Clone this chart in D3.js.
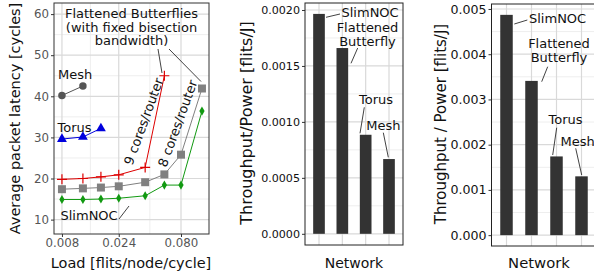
<!DOCTYPE html>
<html>
<head>
<meta charset="utf-8">
<script src="https://cdn.jsdelivr.net/npm/d3@7"></script>
<style>
  body { margin: 0; background: #fff; }
  svg { display: block; }
  text { font-family: "DejaVu Sans", sans-serif; }
</style>
</head>
<body>
<svg id="chart" width="594" height="275"></svg>
<script>
const width = 594;
const height = 275;

// latency vs load
const meshLoad = [0.008, 0.012];
const meshLatency = [40.2, 42.5];
const torusLoad = [0.008, 0.012, 0.017];
const torusLatency = [29.6, 30.1, 32.2];
const fb9Load = [0.008, 0.012, 0.017, 0.024, 0.040, 0.058];
const fb9Latency = [19.8, 20.0, 20.4, 20.9, 22.7, 45.0];
const fb8Load = [0.008, 0.012, 0.017, 0.024, 0.040, 0.058, 0.080, 0.120];
const fb8Latency = [17.4, 17.6, 17.8, 18.1, 19.1, 21.0, 25.8, 41.9];
const slimLoad = [0.008, 0.012, 0.017, 0.024, 0.040, 0.058, 0.080, 0.120];
const slimLatency = [14.9, 14.9, 15.0, 15.2, 15.8, 18.4, 18.4, 36.4];
const loadTicks = [0.008, 0.024, 0.080];
const latencyTicks = [10, 20, 30, 40, 50, 60];

// throughput / power
const networks = ["SlimNOC", "Flattened Butterfly", "Torus", "Mesh"];
const effA = [0.001965, 0.00166, 0.000885, 0.000668];
const effATicks = [0, 0.0005, 0.001, 0.0015, 0.002];
const effB = [0.00487, 0.00341, 0.00174, 0.0013];
const effBTicks = [0, 0.001, 0.002, 0.003, 0.004, 0.005];

const svg = d3.select("#chart");
const gridMajor = "#d9d9d9";
const gridMinor = "#eeeeee";
const annSize = "13px";

// ---------- panel 1 ----------
const p1 = { left: 54, right: 209, top: 3, bottom: 234 };
const x1 = d3.scaleLog().domain([0.00686, 0.1375]).range([p1.left, p1.right]);
const y1 = d3.scaleLinear().domain([6.5, 62.7]).range([p1.bottom, p1.top]);

const g1 = svg.append("g");
g1.append("rect")
  .attr("x", p1.left).attr("y", p1.top)
  .attr("width", p1.right - p1.left).attr("height", p1.bottom - p1.top)
  .attr("fill", "#fff");

// minor grid
const lt = loadTicks.map(Math.log10);
const xMinor = [(lt[0] + lt[1]) / 2, (lt[1] + lt[2]) / 2].map(v => Math.pow(10, v));
g1.selectAll(".xminor").data(xMinor).join("line")
  .attr("x1", d => x1(d)).attr("x2", d => x1(d))
  .attr("y1", p1.top).attr("y2", p1.bottom)
  .attr("stroke", gridMinor).attr("stroke-width", 1);
g1.selectAll(".yminor").data(latencyTicks.map(d => d + 5).filter(d => y1(d) > p1.top))
  .join("line")
  .attr("x1", p1.left).attr("x2", p1.right)
  .attr("y1", d => y1(d)).attr("y2", d => y1(d))
  .attr("stroke", gridMinor).attr("stroke-width", 1);
// major grid
g1.selectAll(".xmajor").data(loadTicks).join("line")
  .attr("x1", d => x1(d)).attr("x2", d => x1(d))
  .attr("y1", p1.top).attr("y2", p1.bottom)
  .attr("stroke", gridMajor).attr("stroke-width", 1.2);
g1.selectAll(".ymajor").data(latencyTicks).join("line")
  .attr("x1", p1.left).attr("x2", p1.right)
  .attr("y1", d => y1(d)).attr("y2", d => y1(d))
  .attr("stroke", gridMajor).attr("stroke-width", 1.2);

const xAxis1 = g1.append("g")
  .attr("transform", `translate(0,${p1.bottom})`)
  .call(d3.axisBottom(x1).tickValues(loadTicks).tickFormat(d3.format(".3f")).tickSize(3).tickPadding(2));
const yAxis1 = g1.append("g")
  .attr("transform", `translate(${p1.left},0)`)
  .call(d3.axisLeft(y1).tickValues(latencyTicks).tickSize(3).tickPadding(2));
[xAxis1, yAxis1].forEach(a => {
  a.select(".domain").remove();
  a.selectAll(".tick line").attr("stroke", "#333");
  a.selectAll(".tick text").attr("fill", "#555").style("font-size", "11.8px")
    .style("font-family", "DejaVu Sans");
});

const line1 = d3.line().x(d => x1(d[0])).y(d => y1(d[1]));
const series = [
  { load: meshLoad, lat: meshLatency, color: "#555555", shape: "circle" },
  { load: torusLoad, lat: torusLatency, color: "#0000dd", shape: "triangle" },
  { load: fb9Load, lat: fb9Latency, color: "#dd0000", shape: "plus" },
  { load: fb8Load, lat: fb8Latency, color: "#808080", shape: "square" },
  { load: slimLoad, lat: slimLatency, color: "#119911", shape: "diamond" }
];
const symbolSize = { circle: 44, triangle: 42, square: 64, diamond: 24 };
series.forEach(s => {
  const pts = s.load.map((l, i) => [l, s.lat[i]]);
  g1.append("path").datum(pts)
    .attr("d", line1).attr("fill", "none")
    .attr("stroke", s.color).attr("stroke-width", 1);
  const pg = g1.append("g");
  pts.forEach(p => {
    const cx = x1(p[0]), cy = y1(p[1]);
    if (s.shape === "plus") {
      pg.append("path")
        .attr("d", `M${cx - 5},${cy}H${cx + 5}M${cx},${cy - 5}V${cy + 5}`)
        .attr("stroke", s.color).attr("stroke-width", 1.2);
    } else {
      const type = { circle: d3.symbolCircle, triangle: d3.symbolTriangle,
        square: d3.symbolSquare, diamond: d3.symbolDiamond }[s.shape];
      pg.append("path")
        .attr("d", d3.symbol().type(type).size(symbolSize[s.shape])())
        .attr("transform", `translate(${cx},${cy})`)
        .attr("fill", s.color);
    }
  });
});

g1.append("rect")
  .attr("x", p1.left).attr("y", p1.top)
  .attr("width", p1.right - p1.left).attr("height", p1.bottom - p1.top)
  .attr("fill", "none").attr("stroke", "#333").attr("stroke-width", 1);

// annotations panel 1
const ann = g1.append("g").style("font-size", annSize).attr("fill", "#111");
ann.append("text").attr("x", 58).attr("y", 78.5).text("Mesh");
ann.append("text").attr("x", 57.5).attr("y", 132).text("Torus");
ann.append("text").attr("x", 60.5).attr("y", 219.5).text("SlimNOC");
["Flattened Butterflies", "(with fixed bisection", "bandwidth)"].forEach((t, i) => {
  ann.append("text").attr("x", 131.5).attr("y", 18 + i * 13.5)
    .attr("text-anchor", "middle").text(t);
});
ann.append("text").attr("transform", "translate(148,123) rotate(-70)")
  .attr("text-anchor", "middle").text("9 cores/router");
ann.append("text").attr("transform", "translate(182,125) rotate(-70)")
  .attr("text-anchor", "middle").text("8 cores/router");
const seg1 = [[119, 219, 129, 206], [158, 49, 162, 73], [169, 49, 201, 81.5]];
g1.selectAll(".seg").data(seg1).join("line")
  .attr("x1", d => d[0]).attr("y1", d => d[1]).attr("x2", d => d[2]).attr("y2", d => d[3])
  .attr("stroke", "#111").attr("stroke-width", 0.8);

g1.append("text")
  .attr("transform", `translate(20,${(p1.top + p1.bottom) / 2}) rotate(-90)`)
  .attr("text-anchor", "middle").style("font-size", "14.5px").attr("fill", "#111")
  .text("Average packet latency [cycles]");
g1.append("text")
  .attr("x", 131).attr("y", 268)
  .attr("text-anchor", "middle").style("font-size", "14.5px").attr("fill", "#111")
  .text("Load [flits/node/cycle]");

// ---------- bar panels ----------
function barPanel(opts) {
  const { left, right, top, bottom, values, ticks, domain, fmt, tickSize,
    ylabel, ylabelX, ylabelSize, xlabelSize, labels, segs } = opts;
  const g = svg.append("g");
  // ggplot-style discrete expansion: 0.6 units each side
  const x = d3.scalePoint().domain(networks)
    .range([left, right]).padding(0.6);
  const unit = x.step();
  const y = d3.scaleLinear().domain(domain).range([bottom, top]);

  g.append("rect").attr("x", left).attr("y", top)
    .attr("width", right - left).attr("height", bottom - top).attr("fill", "#fff");
  const minor = ticks.slice(0, -1).map((t, i) => (t + ticks[i + 1]) / 2);
  g.selectAll(".yminor").data(minor).join("line")
    .attr("x1", left).attr("x2", right).attr("y1", d => y(d)).attr("y2", d => y(d))
    .attr("stroke", gridMinor);
  g.selectAll(".ymajor").data(ticks).join("line")
    .attr("x1", left).attr("x2", right).attr("y1", d => y(d)).attr("y2", d => y(d))
    .attr("stroke", gridMajor).attr("stroke-width", 1.2);
  g.selectAll(".xmajor").data(networks).join("line")
    .attr("x1", d => x(d)).attr("x2", d => x(d)).attr("y1", top).attr("y2", bottom)
    .attr("stroke", gridMajor).attr("stroke-width", 1.2);

  g.selectAll(".bar").data(networks).join("rect")
    .attr("x", d => x(d) - unit * 0.25)
    .attr("width", unit * 0.5)
    .attr("y", (d, i) => y(values[i]))
    .attr("height", (d, i) => y(0) - y(values[i]))
    .attr("fill", "#333333");

  const ya = g.append("g").attr("transform", `translate(${left},0)`)
    .call(d3.axisLeft(y).tickValues(ticks).tickFormat(fmt).tickSize(3).tickPadding(2));
  ya.select(".domain").remove();
  ya.selectAll(".tick line").attr("stroke", "#333");
  ya.selectAll(".tick text").attr("fill", "#111").style("font-size", tickSize);

  g.append("rect").attr("x", left).attr("y", top)
    .attr("width", right - left).attr("height", bottom - top)
    .attr("fill", "none").attr("stroke", "#222").attr("stroke-width", 1);

  const la = g.append("g").style("font-size", annSize).attr("fill", "#111");
  labels.forEach(l => {
    la.append("text").attr("x", l[1]).attr("y", l[2])
      .attr("text-anchor", l[3] || "middle").text(l[0]);
  });
  g.selectAll(".seg").data(segs).join("line")
    .attr("x1", d => d[0]).attr("y1", d => d[1]).attr("x2", d => d[2]).attr("y2", d => d[3])
    .attr("stroke", "#111").attr("stroke-width", 0.8);

  g.append("text")
    .attr("transform", `translate(${ylabelX},${(top + bottom) / 2 - 1}) rotate(-90)`)
    .attr("text-anchor", "middle").style("font-size", ylabelSize).attr("fill", "#111")
    .text(ylabel);
  g.append("text").attr("x", opts.xlabelX).attr("y", 268)
    .attr("text-anchor", "middle").style("font-size", xlabelSize).attr("fill", "#111")
    .text("Network");
}

barPanel({
  left: 305, right: 403, top: 3, bottom: 245,
  values: effA, ticks: effATicks, domain: [-0.0001, 0.0020625],
  fmt: d3.format(".4f"), tickSize: "11.1px",
  ylabel: "Throughput/Power [flits/J]", ylabelX: 252, ylabelSize: "16px",
  xlabelX: 354, xlabelSize: "14px",
  labels: [["SlimNOC", 341.5, 16.7, "start"], ["Flattened", 367.5, 32], ["Butterfly", 367.5, 45.5],
    ["Torus", 376, 104.3], ["Mesh", 383.3, 130]],
  segs: [[326, 17.3, 340, 14], [357.7, 48, 351, 63.3], [364.3, 107.3, 360, 133.3], [383.3, 132.7, 388.3, 157.3]]
});

barPanel({
  left: 491.5, right: 596.5, top: 4, bottom: 246,
  values: effB, ticks: effBTicks, domain: [-0.00024, 0.00511],
  fmt: d3.format(".3f"), tickSize: "12.6px",
  ylabel: "Throughput / Power [flits/J]", ylabelX: 446, ylabelSize: "15px",
  xlabelX: 539, xlabelSize: "14.8px",
  labels: [["SlimNOC", 529, 23.3, "start"], ["Flattened", 559, 48], ["Butterfly", 559, 62],
    ["Torus", 565.5, 124.3], ["Mesh", 577.7, 145.7]],
  segs: [[514.3, 24, 527.3, 20], [547.7, 66.7, 541.7, 81.7], [556.7, 127.7, 552.7, 155], [575.7, 148.3, 581.7, 175]]
});
</script>
</body>
</html>
